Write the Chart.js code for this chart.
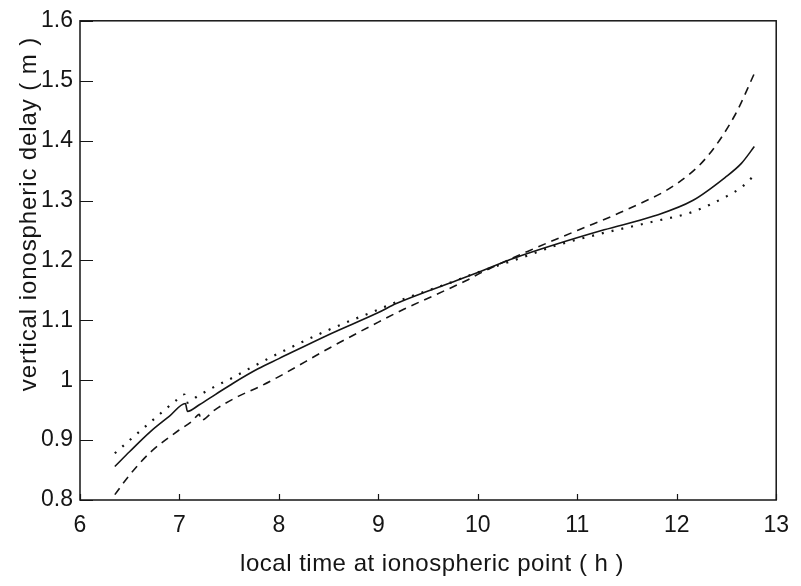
<!DOCTYPE html>
<html>
<head>
<meta charset="utf-8">
<script src="https://cdn.jsdelivr.net/npm/chart.js@4.4.1/dist/chart.umd.min.js"></script>
<style>
  html, body { margin: 0; padding: 0; background: #fff; }
  #wrap { width: 801px; height: 586px; position: relative; }
</style>
</head>
<body>
<div id="wrap"><canvas id="chart"></canvas></div>
<script>
// --- data ---
const solidX = [6.35, 6.5, 6.7, 6.9, 7.06, 7.08, 7.2, 7.36, 7.54, 7.79, 8.0, 8.5, 9.0, 9.18, 9.5, 9.78, 10.0, 10.37, 10.77, 11.27, 11.77, 12.16, 12.49, 12.65, 12.78];
const solidY = [0.856, 0.881, 0.913, 0.940, 0.961, 0.948, 0.959, 0.976, 0.995, 1.019, 1.036, 1.076, 1.113, 1.128, 1.149, 1.166, 1.180, 1.204, 1.226, 1.251, 1.274, 1.300, 1.339, 1.362, 1.390];

const dashedX = [6.35, 6.5, 6.71, 6.99, 7.13, 7.2, 7.215, 7.36, 7.59, 7.79, 8.0, 8.5, 9.0, 9.25, 9.58, 9.88, 10.04, 10.5, 11.0, 11.5, 12.0, 12.3, 12.59, 12.78];
const dashedY = [0.809, 0.842, 0.880, 0.916, 0.932, 0.943, 0.933, 0.951, 0.973, 0.988, 1.006, 1.053, 1.097, 1.118, 1.143, 1.166, 1.180, 1.215, 1.250, 1.285, 1.328, 1.372, 1.444, 1.512];

const dottedX = [6.35, 6.5, 6.75, 6.98, 7.05, 7.07, 7.18, 7.34, 7.52, 7.72, 8.0, 8.5, 9.0, 9.28, 9.66, 10.0, 10.5, 10.77, 11.27, 11.77, 12.16, 12.49, 12.65, 12.78];
const dottedY = [0.878, 0.900, 0.936, 0.968, 0.976, 0.962, 0.973, 0.988, 1.003, 1.021, 1.045, 1.084, 1.118, 1.137, 1.159, 1.180, 1.208, 1.224, 1.246, 1.265, 1.281, 1.306, 1.322, 1.342];

const xTicks = [6, 7, 8, 9, 10, 11, 12, 13];
const yTicks = [0.8, 0.9, 1.0, 1.1, 1.2, 1.3, 1.4, 1.5, 1.6];

const xTitle = "local time at ionospheric point ( h )";
const yTitle = "vertical ionospheric delay ( m )";

const INK = "#151515";
const FONT = "'Liberation Sans', Arial, Helvetica, sans-serif";

function pts(xs, ys) {
  return xs.map((x, i) => ({ x, y: ys[i] }));
}

// --- frame, inward ticks, axis titles ---
const frame = {
  id: "frame",
  afterDraw(chart) {
    const { ctx, chartArea: a, scales: { x, y } } = chart;
    ctx.save();
    ctx.strokeStyle = INK;
    ctx.lineWidth = 1.5;
    ctx.strokeRect(a.left, a.top, a.right - a.left, a.bottom - a.top);
    ctx.beginPath();
    y.ticks.forEach((t) => {
      const py = Math.round(y.getPixelForValue(t.value)) + 0.5;
      ctx.moveTo(a.left, py);
      ctx.lineTo(a.left + 13, py);
    });
    x.ticks.forEach((t) => {
      const px = Math.round(x.getPixelForValue(t.value)) + 0.5;
      ctx.moveTo(px, a.bottom);
      ctx.lineTo(px, a.bottom - 6);
    });
    ctx.lineWidth = 1.2;
    ctx.stroke();

    ctx.fillStyle = INK;
    ctx.font = "24px " + FONT;
    ctx.textAlign = "center";
    ctx.textBaseline = "middle";

    ctx.save();
    ctx.letterSpacing = "0.5px";
    ctx.fillText(xTitle, (a.left + a.right) / 2 + 4, 564);
    ctx.restore();

    // y title sits a little above the middle of the axis, as in the scan
    ctx.translate(29, 214);
    ctx.rotate(-Math.PI / 2);
    ctx.letterSpacing = "0.9px";
    ctx.fillText(yTitle, 0, 0);
    ctx.restore();
  },
};

Chart.defaults.font.family = FONT;
Chart.defaults.color = INK;

new Chart(document.getElementById("chart"), {
  type: "scatter",
  data: {
    datasets: [
      {
        label: "solid",
        data: pts(solidX, solidY),
        showLine: true,
        pointRadius: 0,
        borderColor: INK,
        borderWidth: 1.6,
        cubicInterpolationMode: "monotone",
      },
      {
        label: "dashed",
        data: pts(dashedX, dashedY),
        showLine: true,
        pointRadius: 0,
        borderColor: INK,
        borderWidth: 1.6,
        borderDash: [8, 6],
        cubicInterpolationMode: "monotone",
      },
      {
        label: "dotted",
        data: pts(dottedX, dottedY),
        showLine: true,
        pointRadius: 0,
        borderColor: INK,
        borderWidth: 2.2,
        borderDash: [2, 8],
        cubicInterpolationMode: "monotone",
      },
    ],
  },
  options: {
    animation: false,
    responsive: true,
    maintainAspectRatio: false,
    layout: { padding: { top: 15, right: 17, left: 0, bottom: 0 } },
    plugins: {
      legend: { display: false },
      tooltip: { enabled: false },
    },
    scales: {
      x: {
        type: "linear",
        min: 6,
        max: 13,
        afterBuildTicks: (s) => { s.ticks = xTicks.map((v) => ({ value: v })); },
        afterFit: (s) => { s.height = 86; },
        grid: { display: false, drawTicks: false },
        border: { display: false },
        ticks: { font: { size: 23 }, padding: 12, maxRotation: 0, autoSkip: false },
      },
      y: {
        type: "linear",
        min: 0.8,
        max: 1.6,
        afterBuildTicks: (s) => { s.ticks = yTicks.map((v) => ({ value: v })); },
        afterFit: (s) => { s.width = 80; },
        grid: { display: false, drawTicks: false },
        border: { display: false },
        ticks: {
          font: { size: 23 },
          padding: 7,
          autoSkip: false,
          callback: (v) => String(Number(v.toFixed(1))),
        },
      },
    },
  },
  plugins: [frame],
});
</script>
</body>
</html>
